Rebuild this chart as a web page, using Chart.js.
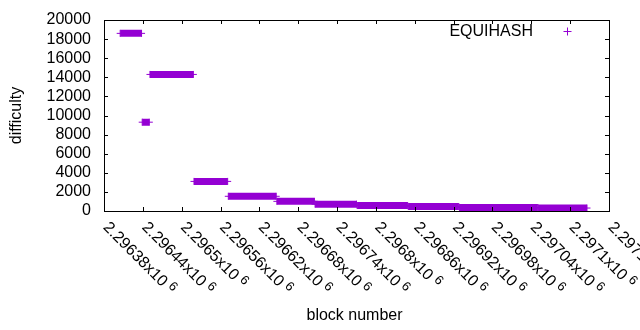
<!DOCTYPE html>
<html>
<head>
<meta charset="utf-8">
<script src="https://cdn.jsdelivr.net/npm/chart.js@4.4.1/dist/chart.umd.min.js"></script>
<style>
html, body { margin: 0; padding: 0; background: #fff; }
#wrap { width: 640px; height: 330px; }
</style>
</head>
<body>
<div id="wrap"><canvas id="myChart" width="640" height="330"></canvas></div>
<script>
// difficulty steps: first block, last block, value
const segStart = [2296405, 2296439, 2296451, 2296519, 2296572, 2296647, 2296706, 2296771, 2296850, 2296929, 2297051];
const segEnd = [2296438, 2296450, 2296518, 2296571, 2296646, 2296705, 2296770, 2296849, 2296928, 2297050, 2297126];
const difficulty = [18600, 9300, 14300, 3100, 1540, 1010, 715, 575, 470, 365, 310];

const xTicks = [2296380, 2296440, 2296500, 2296560, 2296620, 2296680, 2296740, 2296800, 2296860, 2296920, 2296980, 2297040, 2297100, 2297160];
const xTickLabels = ["2.29638", "2.29644", "2.2965", "2.29656", "2.29662", "2.29668", "2.29674", "2.2968", "2.29686", "2.29692", "2.29698", "2.29704", "2.2971", "2.29716"];
const yTicks = [0, 2000, 4000, 6000, 8000, 10000, 12000, 14000, 16000, 18000, 20000];

const seriesName = "EQUIHASH";
const xTitle = "block number";
const yTitle = "difficulty";

const PURPLE = '#9400d3';
const FONT = '"Liberation Sans", Arial, sans-serif';

// each step is a flat run, break the line between runs
let points = [];
for (let i = 0; i < difficulty.length; i++) {
	points.push({x: segStart[i], y: difficulty[i]});
	points.push({x: segEnd[i], y: difficulty[i]});
	points.push({x: segEnd[i], y: null});
}

// gnuplot style frame, mirrored ticks, rotated labels and key
const gnuFrame = {
	id: 'gnuFrame',
	afterDatasetsDraw(chart) {
		const ctx = chart.ctx;
		const a = chart.chartArea;
		const xs = chart.scales.x;
		const ys = chart.scales.y;
		ctx.save();
		ctx.strokeStyle = '#000';
		ctx.lineWidth = 1;
		ctx.strokeRect(a.left + 0.5, a.top + 0.5, a.right - a.left, a.bottom - a.top);

		ctx.beginPath();
		xTicks.forEach(function(v) {
			let px = Math.round(xs.getPixelForValue(v)) + 0.5;
			ctx.moveTo(px, a.bottom);
			ctx.lineTo(px, a.bottom - 4);
			ctx.moveTo(px, a.top);
			ctx.lineTo(px, a.top + 4);
		});
		yTicks.forEach(function(v) {
			let py = Math.round(ys.getPixelForValue(v)) + 0.5;
			ctx.moveTo(a.left, py);
			ctx.lineTo(a.left + 4, py);
			ctx.moveTo(a.right, py);
			ctx.lineTo(a.right - 4, py);
		});
		ctx.stroke();

		ctx.fillStyle = '#000';
		ctx.font = '16px ' + FONT;

		// y tick labels
		ctx.textAlign = 'right';
		ctx.textBaseline = 'middle';
		yTicks.forEach(function(v) {
			ctx.fillText(String(v), a.left - 13, ys.getPixelForValue(v));
		});

		// x tick labels, rotated down to the right, with x10^6
		xTicks.forEach(function(v, i) {
			let px = xs.getPixelForValue(v);
			ctx.save();
			ctx.translate(px + 1.5, a.bottom + 14);
			ctx.rotate(Math.PI / 4);
			ctx.textAlign = 'left';
			ctx.textBaseline = 'middle';
			ctx.font = '16px ' + FONT;
			let txt = xTickLabels[i] + 'x10';
			ctx.fillText(txt, 0, 0);
			let w = ctx.measureText(txt).width;
			ctx.font = '13px ' + FONT;
			ctx.fillText('6', w + 4, -4);
			ctx.restore();
		});

		// axis titles
		ctx.font = '16px ' + FONT;
		ctx.textAlign = 'center';
		ctx.textBaseline = 'middle';
		ctx.fillText(xTitle, (a.left + a.right) / 2 - 2, 316);
		ctx.save();
		ctx.translate(17, (a.top + a.bottom) / 2);
		ctx.rotate(-Math.PI / 2);
		ctx.fillText(yTitle, 0, 0);
		ctx.restore();

		// key
		ctx.textAlign = 'right';
		ctx.fillText(seriesName, 533, 32);
		ctx.strokeStyle = PURPLE;
		ctx.beginPath();
		ctx.moveTo(563.5, 31.5);
		ctx.lineTo(571.5, 31.5);
		ctx.moveTo(567.5, 27.5);
		ctx.lineTo(567.5, 35.5);
		ctx.stroke();
		ctx.restore();
	}
};

let ctx = document.getElementById('myChart');
let myChart = new Chart(ctx, {
	type: 'scatter',
	data: {
		datasets: [{
			label: seriesName,
			data: points,
			showLine: true,
			spanGaps: false,
			borderColor: PURPLE,
			backgroundColor: PURPLE,
			borderWidth: 7,
			pointStyle: 'cross',
			pointRadius: 3.5,
			pointHoverRadius: 3.5,
			pointBorderWidth: 1,
			pointBorderColor: PURPLE
		}]
	},
	options: {
		responsive: false,
		animation: false,
		events: [],
		devicePixelRatio: 1,
		layout: {
			padding: {left: 104, right: 31, top: 20, bottom: 119}
		},
		plugins: {
			legend: {display: false},
			tooltip: {enabled: false}
		},
		scales: {
			x: {
				type: 'linear',
				display: false,
				min: 2296380,
				max: 2297160,
				ticks: {stepSize: 60}
			},
			y: {
				display: false,
				min: 0,
				max: 20000,
				ticks: {stepSize: 2000}
			}
		}
	},
	plugins: [gnuFrame]
});
</script>
</body>
</html>
